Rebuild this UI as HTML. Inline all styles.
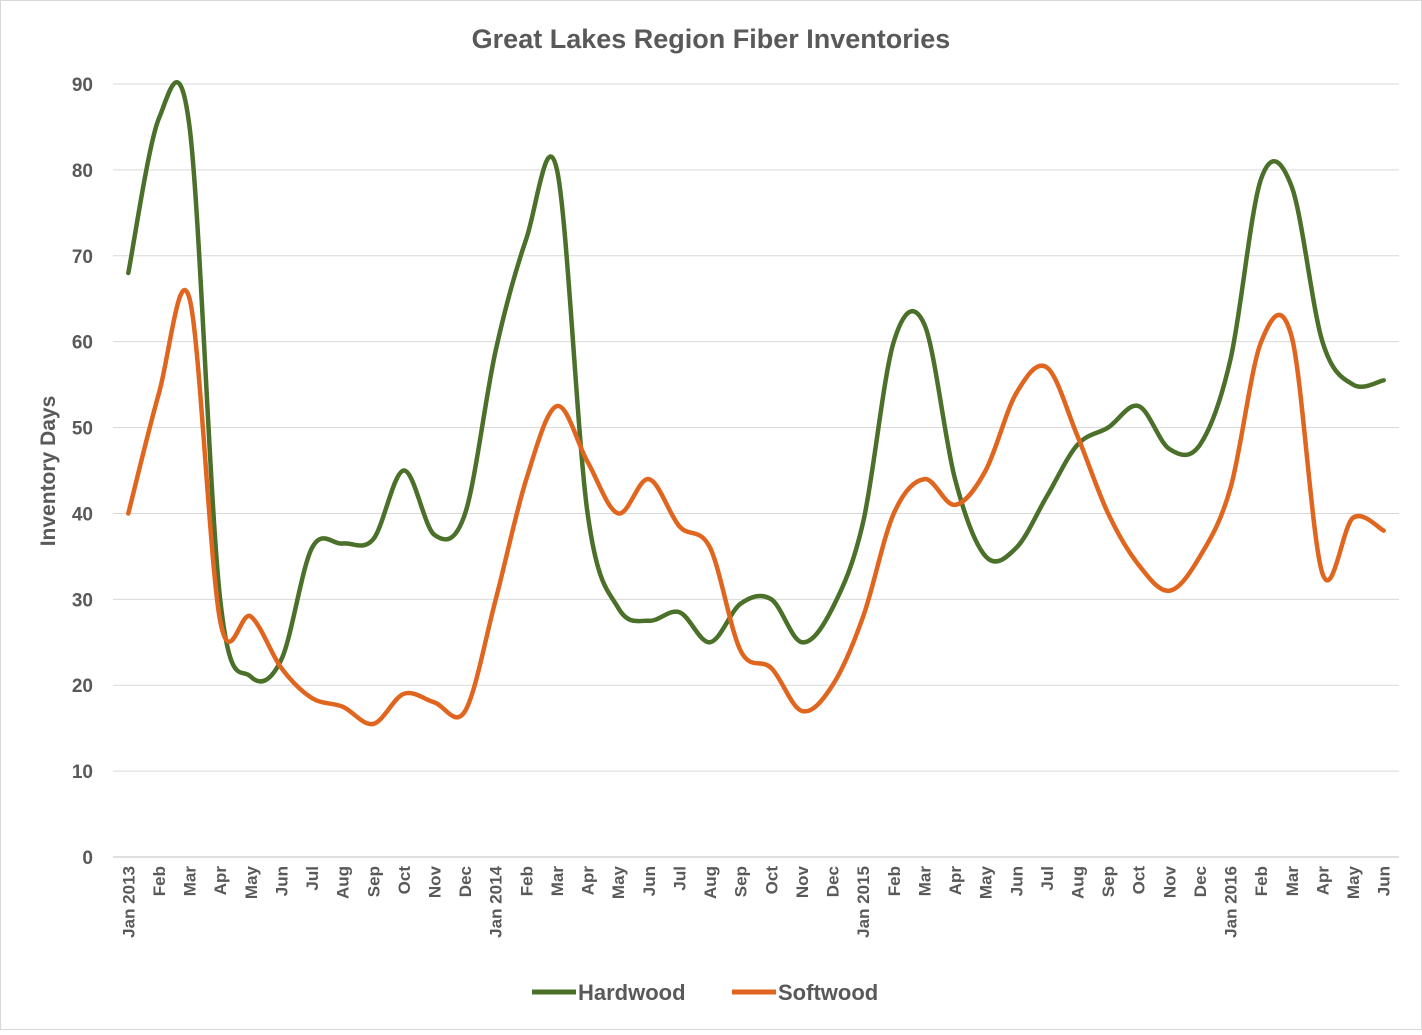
<!DOCTYPE html>
<html><head><meta charset="utf-8"><style>
body{margin:0;background:#fff;}
svg{font-family:"Liberation Sans",sans-serif;}
</style></head><body>
<svg id="chart" width="1422" height="1030">
<rect x="0.5" y="0.5" width="1421" height="1029" fill="#fff" stroke="#d9d9d9"/>
<text x="711" y="48" text-anchor="middle" font-size="27" font-weight="bold" fill="#595959">Great Lakes Region Fiber Inventories</text>
<text transform="translate(55,471) rotate(-90)" text-anchor="middle" font-size="21" font-weight="bold" fill="#595959">Inventory Days</text>
<g id="grid"></g><g id="xlabels"></g><g id="lines"></g>
<g>
<line x1="532" y1="992" x2="576" y2="992" stroke="#4a7029" stroke-width="5"/>
<text x="578" y="1000" font-size="22" font-weight="bold" fill="#595959">Hardwood</text>
<line x1="732" y1="992" x2="776" y2="992" stroke="#e0661f" stroke-width="5"/>
<text x="778" y="1000" font-size="22" font-weight="bold" fill="#595959">Softwood</text>
</g>
</svg>
<script>
const categories=["Jan 2013","Feb","Mar","Apr","May","Jun","Jul","Aug","Sep","Oct","Nov","Dec","Jan 2014","Feb","Mar","Apr","May","Jun","Jul","Aug","Sep","Oct","Nov","Dec","Jan 2015","Feb","Mar","Apr","May","Jun","Jul","Aug","Sep","Oct","Nov","Dec","Jan 2016","Feb","Mar","Apr","May","Jun"];
const hardwood=[68,86,85,30,21,23,36,36.5,37,45,37.5,40,59,72,80,40,29,27.5,28.5,25,29.5,30,25,29,39,60,62,44,35,36,42,48,50,52.5,47.5,48,58,79,78,60,55,55.5];
const softwood=[40,54,65,27.5,28,22,18.5,17.5,15.5,19,18,17,30,44,52.5,46,40,44,38.5,36,24,22,17,20,28,40,44,41,45,54,57,49,40,34,31,35,43,60,60.5,33,39.5,38];
const yTicks=[0,10,20,30,40,50,60,70,80,90];
const NS="http://www.w3.org/2000/svg";
const L=113,R=1399,Y0=857,Y90=84;
const band=(R-L)/categories.length;
const xs=i=>L+band*(i+0.5);
const ys=v=>Y0-(v/90)*(Y0-Y90);
const grid=document.getElementById('grid');
yTicks.forEach(t=>{
 const ln=document.createElementNS(NS,'line');
 ln.setAttribute('x1',L);ln.setAttribute('x2',R);ln.setAttribute('y1',ys(t));ln.setAttribute('y2',ys(t));
 ln.setAttribute('stroke',t===0?'#bfbfbf':'#d9d9d9');ln.setAttribute('stroke-width','1');
 
 
 grid.appendChild(ln);
 const tx=document.createElementNS(NS,'text');
 tx.setAttribute('x',93);tx.setAttribute('y',ys(t)+7);tx.setAttribute('text-anchor','end');
 tx.setAttribute('font-size','19');tx.setAttribute('font-weight','bold');tx.setAttribute('fill','#595959');
 tx.textContent=t;
 
 
 grid.appendChild(tx);
});
const xl=document.getElementById('xlabels');
categories.forEach((c,i)=>{
 const tx=document.createElementNS(NS,'text');
 tx.setAttribute('transform',`translate(${xs(i)+6},866) rotate(-90)`);
 tx.setAttribute('text-anchor','end');tx.setAttribute('font-size','17');tx.setAttribute('font-weight','bold');tx.setAttribute('fill','#595959');
 tx.textContent=c;
 
 
 xl.appendChild(tx);
});
function path(vals){
 const p=vals.map((v,i)=>[xs(i),ys(v)]);
 let d=`M${p[0][0]},${p[0][1]}`;
 for(let i=0;i<p.length-1;i++){
  const p0=p[i-1]||p[i],p1=p[i],p2=p[i+1],p3=p[i+2]||p2;
  const c1=[p1[0]+(p2[0]-p0[0])/6,p1[1]+(p2[1]-p0[1])/6];
  const c2=[p2[0]-(p3[0]-p1[0])/6,p2[1]-(p3[1]-p1[1])/6];
  d+=` C${c1[0]},${c1[1]} ${c2[0]},${c2[1]} ${p2[0]},${p2[1]}`;
 }
 return d;
}
const lines=document.getElementById('lines');
[[hardwood,'#4a7029','hardwood-line'],[softwood,'#e0661f','softwood-line']].forEach(([v,c,n])=>{
 const pa=document.createElementNS(NS,'path');
 pa.setAttribute('d',path(v));pa.setAttribute('fill','none');pa.setAttribute('stroke',c);
 pa.setAttribute('stroke-width','4.5');pa.setAttribute('stroke-linejoin','round');pa.setAttribute('stroke-linecap','round');
 
 
 lines.appendChild(pa);
});
</script>
</body></html>
